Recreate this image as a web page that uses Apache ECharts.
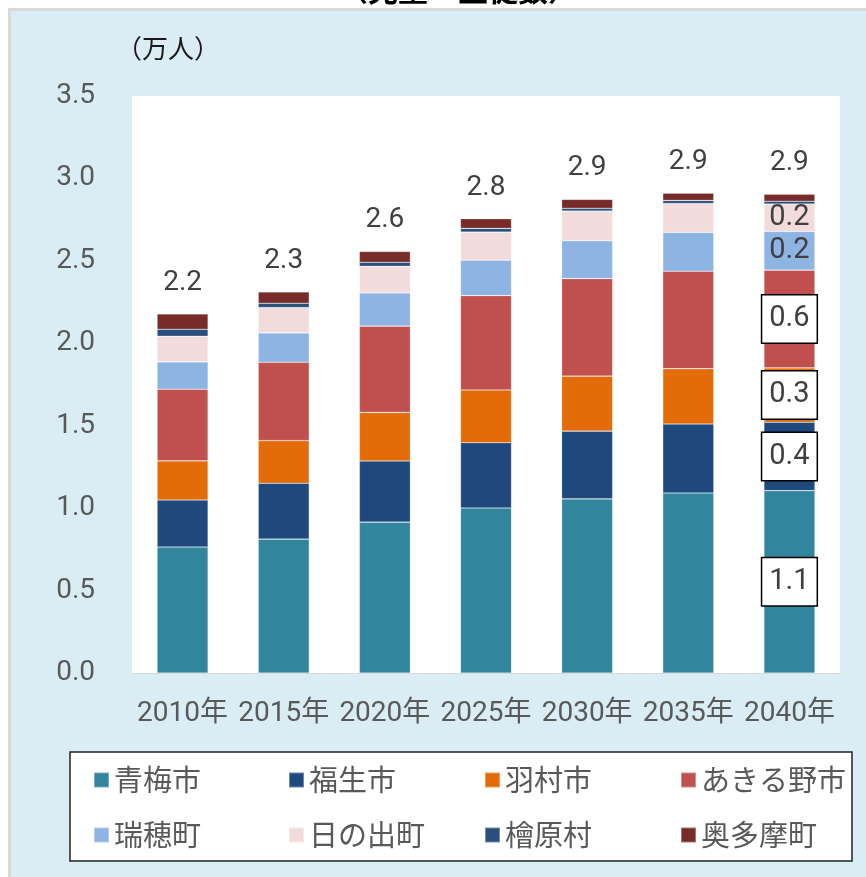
<!DOCTYPE html>
<html>
<head>
<meta charset="utf-8">
<script src="https://cdn.jsdelivr.net/npm/echarts@6/dist/echarts.min.js"></script>
<style>
  html, body { margin: 0; padding: 0; background: #fff; }
  #chart { width: 866px; height: 877px; }
</style>
</head>
<body>
<div id="chart"></div>
<script>
// 年次
const years = ['2010年', '2015年', '2020年', '2025年', '2030年', '2035年', '2040年'];

// 市町村別の値（万人）
const ome = [0.764, 0.812, 0.915, 1.001, 1.056, 1.092, 1.106];
const fussa = [0.285, 0.339, 0.371, 0.396, 0.411, 0.418, 0.415];
const hamura = [0.238, 0.259, 0.295, 0.320, 0.334, 0.336, 0.330];
const akiruno = [0.434, 0.475, 0.523, 0.572, 0.591, 0.591, 0.593];
const mizuho = [0.166, 0.178, 0.201, 0.215, 0.230, 0.236, 0.234];
const hinode = [0.156, 0.154, 0.162, 0.170, 0.180, 0.175, 0.167];
const hinohara = [0.042, 0.026, 0.025, 0.023, 0.017, 0.019, 0.017];
const okutama = [0.093, 0.069, 0.065, 0.059, 0.054, 0.044, 0.042];

const seriesNames = ['青梅市', '福生市', '羽村市', 'あきる野市', '瑞穂町', '日の出町', '檜原村', '奥多摩町'];
const yTicks = [0, 0.5, 1.0, 1.5, 2.0, 2.5, 3.0, 3.5];

const seriesValues = [ome, fussa, hamura, akiruno, mizuho, hinode, hinohara, okutama];
const colors = ['#31859C', '#1F497D', '#E36C09', '#C0504D', '#8EB4E3', '#F2DCDB', '#2A4F7C', '#772C2A'];

const FONT = 'Roboto, "Noto Sans CJK JP", sans-serif';
const CJK = '"Noto Sans CJK JP", sans-serif';

const totals = years.map((_, i) => seriesValues.reduce((sum, arr) => sum + arr[i], 0));

// 2040年だけにラベルを付ける（0=枠付き、1=枠なし）
const lastLabelStyle = [0, 0, 0, 0, 1, 1, null, null];

/**
 * Builds the label for the last category of a series.
 * @param {number} idx - Series index.
 * @returns {Object|undefined} - Label option.
 */
const buildLastLabel = (idx) => {
    const kind = lastLabelStyle[idx];
    if (kind === null) {
        return undefined;
    }
    const label = {
        show: true,
        position: 'inside',
        formatter: (p) => p.value.toFixed(1),
        fontFamily: FONT,
        fontSize: 29,
        color: '#404040',
    };
    if (kind === 0) {
        label.backgroundColor = '#fff';
        label.borderColor = '#000';
        label.borderWidth = 1.5;
        label.padding = [9, 7, 9, 7];
    }
    return label;
};

const barSeries = seriesNames.map((name, idx) => ({
    name,
    type: 'bar',
    stack: 'total',
    barWidth: 51,
    itemStyle: { color: colors[idx], borderColor: 'rgba(255,255,255,0.35)', borderWidth: 0.6 },
    data: seriesValues[idx].map((v, i) => {
        if (i !== years.length - 1) {
            return v;
        }
        const label = buildLastLabel(idx);
        return label ? { value: v, label } : v;
    }),
}));

// 合計ラベル用の高さ0の系列
barSeries.push({
    name: '合計',
    type: 'bar',
    stack: 'total',
    barWidth: 51,
    itemStyle: { color: 'transparent' },
    data: years.map(() => 0),
    label: {
        show: true,
        position: 'top',
        distance: 17,
        formatter: (p) => totals[p.dataIndex].toFixed(1),
        fontFamily: FONT,
        fontSize: 28,
        color: '#404040',
    },
});

const legendCols = [88, 283, 479, 675];
const legends = legendCols.map((left, c) => ({
    left,
    top: 760,
    orient: 'vertical',
    icon: 'rect',
    itemWidth: 15,
    itemHeight: 15,
    itemGap: 25,
    selectedMode: false,
    data: [seriesNames[c], seriesNames[c + 4]],
    textStyle: {
        fontFamily: CJK,
        fontSize: 29,
        lineHeight: 30,
        color: '#595959',
    },
}));

const chart = echarts.init(document.getElementById('chart'), null, { renderer: 'canvas' });

chart.setOption({
    backgroundColor: '#fff',
    animation: false,
    graphic: [
        {
            type: 'text',
            left: 458 - 120,
            top: -25,
            style: {
                text: '（児童・生徒数）',
                fontFamily: CJK,
                fontSize: 30,
                fontWeight: 'bold',
                fill: '#000',
            },
            z: 0,
        },
        {
            type: 'rect',
            shape: { x: 9.5, y: 9.5, width: 870, height: 880 },
            style: { fill: '#DAEDF4', stroke: '#D9D9D9', lineWidth: 3 },
            z: 0,
        },
        {
            type: 'text',
            x: 116,
            y: 35,
            style: {
                text: '（万人）',
                fontFamily: CJK,
                fontSize: 26,
                fill: '#1a1a1a',
            },
            z: 1,
        },
        {
            type: 'rect',
            shape: { x: 70, y: 752, width: 782, height: 109 },
            style: { fill: '#fff', stroke: '#222', lineWidth: 1.5 },
            z: 1,
        },
    ],
    grid: {
        left: 132,
        right: 26,
        top: 96,
        bottom: 204,
        show: true,
        backgroundColor: '#fff',
        borderWidth: 0,
        z: 2,
    },
    legend: legends,
    xAxis: {
        type: 'category',
        data: years,
        axisLine: { lineStyle: { color: '#D9D9D9', width: 1 } },
        axisTick: { show: false },
        axisLabel: {
            fontFamily: FONT,
            fontSize: 28,
            color: '#595959',
            margin: 27,
            interval: 0,
        },
    },
    yAxis: {
        type: 'value',
        min: yTicks[0],
        max: yTicks[yTicks.length - 1],
        interval: 0.5,
        axisLine: { show: false },
        axisTick: { show: false },
        splitLine: { lineStyle: { color: '#D9D9D9', width: 1 } },
        axisLabel: {
            fontFamily: FONT,
            fontSize: 28,
            color: '#595959',
            margin: 37,
            formatter: (v) => v.toFixed(1),
        },
    },
    series: barSeries,
});
</script>
</body>
</html>
